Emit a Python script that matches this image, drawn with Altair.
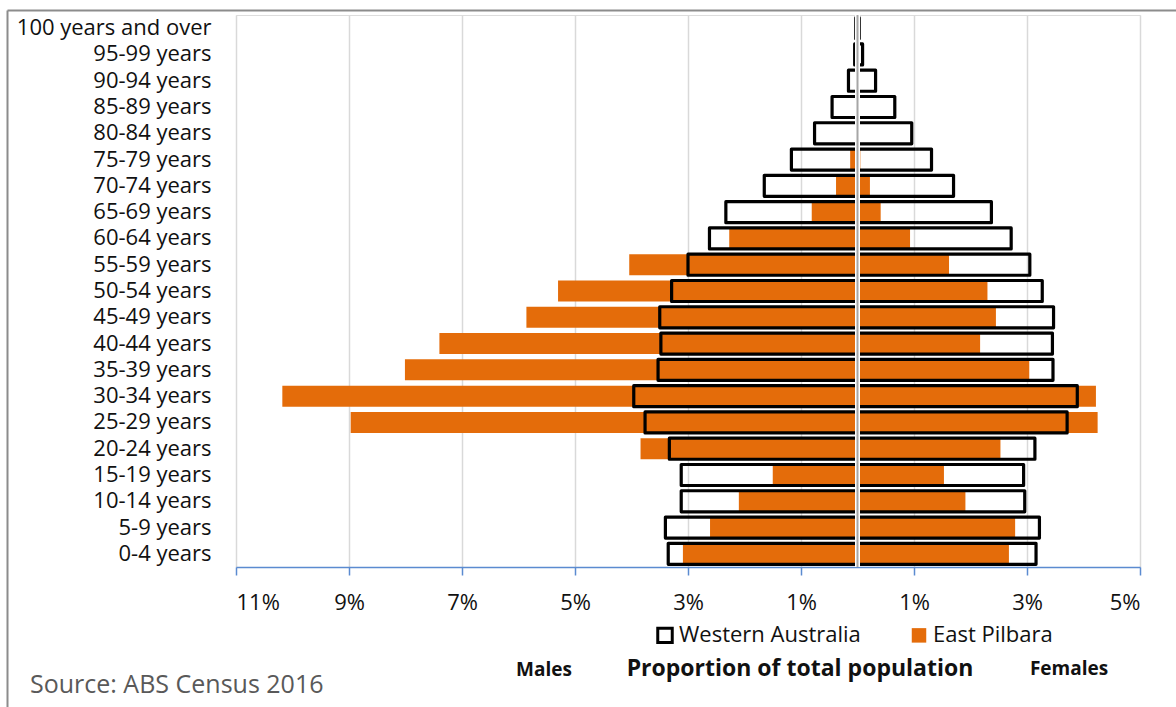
import altair as alt
import pandas as pd

# ---------------- data ----------------
ages = [
    "100 years and over", "95-99 years", "90-94 years", "85-89 years",
    "80-84 years", "75-79 years", "70-74 years", "65-69 years",
    "60-64 years", "55-59 years", "50-54 years", "45-49 years",
    "40-44 years", "35-39 years", "30-34 years", "25-29 years",
    "20-24 years", "15-19 years", "10-14 years", "5-9 years", "0-4 years",
]
wa_male = [0.03, 0.05, 0.16, 0.45, 0.76, 1.17, 1.65, 2.33, 2.62, 3.00, 3.29,
           3.50, 3.48, 3.53, 3.96, 3.76, 3.33, 3.12, 3.12, 3.40, 3.35]
wa_female = [0.03, 0.09, 0.32, 0.66, 0.96, 1.31, 1.70, 2.37, 2.72, 3.05, 3.27,
             3.47, 3.45, 3.46, 3.89, 3.71, 3.14, 2.94, 2.96, 3.22, 3.16]
ep_male = [0.0, 0.0, 0.0, 0.0, 0.0, 0.13, 0.38, 0.81, 2.27, 4.04, 5.30,
           5.86, 7.40, 8.01, 10.18, 8.97, 3.84, 1.50, 2.10, 2.61, 3.09]
ep_female = [0.0, 0.0, 0.0, 0.0, 0.0, 0.05, 0.22, 0.41, 0.93, 1.62, 2.30,
             2.45, 2.17, 3.04, 4.22, 4.25, 2.53, 1.53, 1.91, 2.79, 2.68]
tick_values = [-11, -9, -7, -5, -3, -1, 1, 3, 5]

SERIES_WA = "Western Australia"
SERIES_EP = "East Pilbara"
series_order = [SERIES_WA, SERIES_EP]
males_label = "Males"
females_label = "Females"
axis_title = "Proportion of total population"
source_label = "Source: ABS Census 2016"

ORANGE = "#E46C0A"
BLUE = "#5B8BD0"
FONT = "Open Sans"


def build(series, male, female):
    recs = []
    for a, m, f in zip(ages, male, female):
        recs.append({"age": a, "series": series, "sex": "Males", "value": -m})
        recs.append({"age": a, "series": series, "sex": "Females", "value": f})
    return pd.DataFrame(recs)


df_ep = build(SERIES_EP, ep_male, ep_female)
df_wa = build(SERIES_WA, wa_male, wa_female)

# ---------------- encodings ----------------
x_scale = alt.Scale(domain=[-11, 5], nice=False, zero=False)
y_scale = alt.Scale(domain=ages, paddingInner=0.2, paddingOuter=0.1)
fill_scale = alt.Scale(domain=series_order, range=["transparent", ORANGE])
stroke_scale = alt.Scale(domain=series_order, range=["#000000", "transparent"])

x_enc = alt.X(
    "value:Q", scale=x_scale,
    axis=alt.Axis(
        values=tick_values, labelExpr="abs(datum.value) + '%'", title=None,
        domainColor=BLUE, domainWidth=1.5, tickColor=BLUE, tickWidth=1.5,
        tickSize=8, grid=True, gridColor="#D9D9D9", gridWidth=1.5,
        labelFontSize=22, labelColor="#111111", labelPadding=17,
        labelFont=FONT,
    ),
)
y_enc = alt.Y(
    "age:N", scale=y_scale, sort=ages,
    axis=alt.Axis(
        title=None, domain=False, ticks=False, tickSize=0, grid=False,
        labelFontSize=22, labelColor="#111111", labelPadding=25,
        labelFont=FONT, labelLimit=400,
    ),
)
legend = alt.Legend(
    title=None, orient="none", legendX=418, legendY=609,
    direction="horizontal", symbolType="square", symbolSize=210,
    symbolStrokeWidth=3, labelFontSize=22, labelFont=FONT,
    labelColor="#111111", columnPadding=44, labelOffset=3, labelLimit=400,
)

ep = alt.Chart(df_ep).mark_bar().encode(
    x=x_enc, y=y_enc,
    fill=alt.Fill("series:N", scale=fill_scale, legend=legend),
    stroke=alt.Stroke("series:N", scale=stroke_scale, legend=legend),
)
wa = alt.Chart(df_wa).mark_bar(strokeWidth=3.2, strokeJoin="round").encode(
    x=x_enc, y=y_enc,
    fill=alt.Fill("series:N", scale=fill_scale, legend=legend),
    stroke=alt.Stroke("series:N", scale=stroke_scale, legend=legend),
)

center_df = pd.DataFrame({"value": [0]})
center_white = alt.Chart(center_df).mark_rule(color="white", strokeWidth=5).encode(
    x=alt.X("value:Q", scale=x_scale), y=alt.value(0), y2=alt.value(552))
center_gray = alt.Chart(center_df).mark_rule(color="#A6A6A6", strokeWidth=2).encode(
    x=alt.X("value:Q", scale=x_scale), y=alt.value(0), y2=alt.value(552))

# outer chart border (top and left edges visible in the crop)
border_df = pd.DataFrame({"k": [0]})
border_left = alt.Chart(border_df).mark_rule(color="#8C8C8C", strokeWidth=2).encode(
    x=alt.value(-228.5), y=alt.value(-4.5), y2=alt.value(700))
border_top = alt.Chart(border_df).mark_rule(color="#8C8C8C", strokeWidth=2).encode(
    x=alt.value(-228.5), x2=alt.value(945), y=alt.value(-4.5))


def note(text, x, y, size, weight="normal", color="#111111", align="center"):
    return alt.Chart(pd.DataFrame({"t": [text]})).mark_text(
        font=FONT, fontSize=size, fontWeight=weight, color=color,
        align=align, baseline="alphabetic",
    ).encode(text="t:N", x=alt.value(x), y=alt.value(y))


t_males = note(males_label, 308, 661, 19, "bold")
t_title = note(axis_title, 564, 661, 23, "bold")
t_females = note(females_label, 833, 660, 19, "bold")
t_source = note(source_label, -206, 678, 25, "normal", "#595959", "left")

chart = alt.layer(
    ep, wa, center_white, center_gray, border_left, border_top,
    t_males, t_title, t_females, t_source,
).properties(
    width=904, height=552,
    autosize=alt.AutoSizeParams(type="none"),
    padding={"left": 236, "top": 15, "right": 36, "bottom": 140},
    background="white",
).configure_view(stroke="transparent").configure(font=FONT)

chart.save("out.html", embed_options={"renderer": "svg", "actions": False})
